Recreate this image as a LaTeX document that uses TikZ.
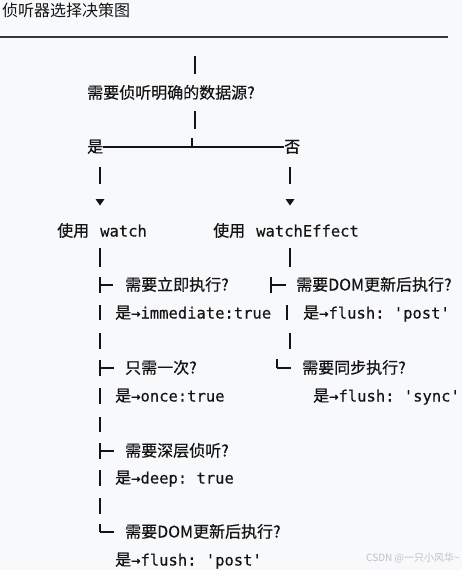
\documentclass[tikz,border=0pt]{standalone}
\usepackage{fontspec}
\setmonofont{DejaVu Sans Mono}[FakeBold=0.35]
\newfontfamily\cjk{Noto Sans CJK SC}[FakeBold=0.45]
\newfontfamily\cjkplain{Noto Sans CJK SC}
\usetikzlibrary{positioning}
\definecolor{paper}{RGB}{248,249,251}
\definecolor{ink}{RGB}{20,20,20}
\definecolor{mark}{RGB}{190,192,198}
\newcommand\cd[1]{{\ttfamily\fontsize{15.5}{19}\selectfont #1}}

\begin{document}
\begin{tikzpicture}[x=1pt,y=-1pt,
    lbl/.style={anchor=west,inner sep=0pt,text=ink,text height=12pt,text depth=1pt,
      font=\cjk\fontsize{16}{19}\selectfont},
    bar/.style={draw=ink,line width=1.6pt},
    thin/.style={draw=ink,line width=1.2pt},
    tip/.style={fill=ink}]
  \fill[paper] (0,0) rectangle (462,570);
  \useasboundingbox (0,0) rectangle (462,570);

  % title and rule
  \node[lbl,font=\cjkplain\fontsize{16}{19}\selectfont] (title) at (2,11) {侦听器选择决策图};
  \coordinate (ruleL) at (0,37);
  \coordinate (ruleR) at (448,37);
  \draw[line width=1.6pt,draw=ink!85] (ruleL) -- (ruleR);

  % first question
  \node[lbl] (src) at (87,93) {需要侦听明确的数据源?};
  \draw[bar] (195,56) -- (195,74);
  \draw[bar] (195,111) -- (195,129);

  \node[lbl] (yes) at (87,147) {是};
  \node[lbl] (no) at (284,147) {否};
  \draw[thin] (yes.east) -- (no.west);
  \coordinate (fork) at (192,147);
  \draw[thin] (fork) -- ++(0,-9);

  % the two branches
  \draw[bar] (100,167) -- (100,184);
  \draw[bar] (290,167) -- (290,184);
  \coordinate (tl) at (100,202);
  \coordinate (tr) at (290,202);
  \fill[tip] (tl) ++(-4.5,-3) -- ++(9,0) -- ++(-4.5,6.5) -- cycle;
  \fill[tip] (tr) ++(-4.5,-3) -- ++(9,0) -- ++(-4.5,6.5) -- cycle;

  \node[lbl] (watch) at (57,231) {使用\hspace{11pt}\cd{watch}};
  \node[lbl] (effect) at (213,231) {使用\hspace{11pt}\cd{watchEffect}};
  \draw[bar] (100,248) -- (100,267);
  \draw[bar] (290,248) -- (290,267);

  % watch options
  \node[lbl] (now) at (125,285) {需要立即执行?};
  \draw[bar] (100,277) -- (100,293);
  \draw[thin] (100,285) -- ([xshift=-12pt]now.west);
  \node[lbl] (nowA) at (115,313) {是\cd{→immediate:true}};
  \draw[bar] (100,305) -- (100,320);

  \draw[bar] (100,333) -- (100,349);
  \node[lbl] (once) at (125,368) {只需一次?};
  \draw[bar] (100,360) -- (100,376);
  \draw[thin] (100,368) -- ([xshift=-11pt]once.west);
  \node[lbl] (onceA) at (115,396) {是\cd{→once:true}};
  \draw[bar] (100,388) -- (100,404);

  \draw[bar] (100,417) -- (100,432);
  \node[lbl] (deep) at (125,451) {需要深层侦听?};
  \draw[bar] (100,443) -- (100,459);
  \draw[thin] (100,451) -- ([xshift=-11pt]deep.west);
  \node[lbl] (deepA) at (115,478) {是\cd{→deep: true}};
  \draw[bar] (100,470) -- (100,486);

  \draw[bar] (100,498) -- (100,514);
  \node[lbl] (post) at (125,532) {需要DOM更新后执行?};
  \draw[bar] (100,524) -- (100,532);
  \draw[thin] (100,532) -- ([xshift=-11pt]post.west);
  \node[lbl] (postA) at (115,560) {是\cd{→flush: 'post'}};

  % watchEffect options
  \node[lbl] (epost) at (296,285) {需要DOM更新后执行?};
  \draw[bar] (271,277) -- (271,293);
  \draw[thin] (271,285) -- ([xshift=-10pt]epost.west);
  \node[lbl] (epostA) at (303,313) {是\cd{→flush: 'post'}};
  \draw[bar] (287,305) -- (287,320);

  \draw[bar] (290,333) -- (290,349);
  \node[lbl] (sync) at (302,368) {需要同步执行?};
  \draw[bar] (277,359) -- (277,368);
  \draw[thin] (277,368) -- ([xshift=-11pt]sync.west);
  \node[lbl] (syncA) at (313,396) {是\cd{→flush: 'sync'}};

  \node[anchor=west,inner sep=0pt,text=mark,font=\cjkplain\fontsize{10}{12}\selectfont]
    (wm) at (366,558) {CSDN @一只小风华\textasciitilde};
\end{tikzpicture}
\end{document}
